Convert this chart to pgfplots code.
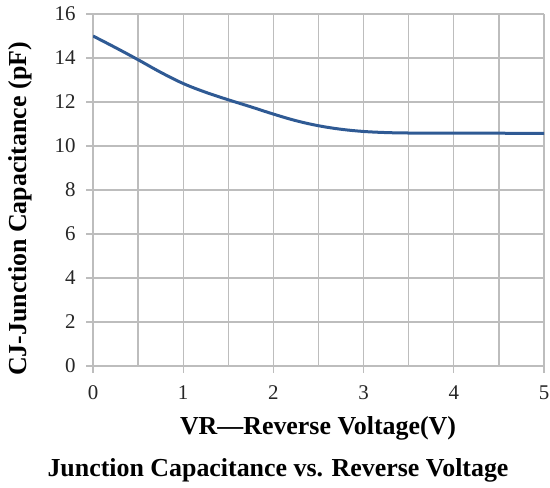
\documentclass[border=0pt]{standalone}
\usepackage{pgfplots}
\pgfplotsset{compat=1.18}
\usepackage{fontspec}
\setmainfont{Liberation Serif}
\definecolor{curve}{HTML}{2F5A94}
\definecolor{grid}{HTML}{BDBDBD}

\begin{document}
\begin{tikzpicture}[x=1bp,y=1bp]
  \path[use as bounding box] (0,0) rectangle (550,488);
  \begin{axis}[
      at={(93bp,122bp)}, anchor=south west,
      scale only axis,
      width=451bp, height=352bp,
      xmin=0, xmax=5, ymin=0, ymax=16,
      xtick={0,1,...,5}, ytick={0,2,...,16},
      minor xtick={0.5,1.5,...,4.5},
      grid=both,
      major grid style={draw=grid, line width=1.3bp},
      minor grid style={draw=grid, line width=1.3bp},
      axis line style={draw=grid, line width=1.3bp},
      tick style={draw=grid, line width=1.3bp},
      major tick length=7bp, minor tick length=0pt,
      tick align=outside,
      xtick pos=bottom, ytick pos=left,
      axis x line*=bottom, axis y line*=left,
      /pgf/number format/assume math mode=true,
      tick label style={font=\rmfamily\fontsize{21}{24}\selectfont, text=black!85},
      xticklabel style={yshift=-9bp},
      yticklabel style={xshift=-7bp},
    ]
    \addplot[curve, line width=3bp, smooth, tension=0.6] coordinates {
      (0,15.0) (0.25,14.47) (0.5,13.92) (0.75,13.35) (1,12.84) (1.25,12.44)
      (1.5,12.1) (1.75,11.78) (2,11.45) (2.25,11.15) (2.5,10.92)
      (2.75,10.76) (3,10.66) (3.25,10.61) (3.5,10.59) (4,10.58)
      (4.5,10.58) (5,10.57)
    };
  \end{axis}
  \node[font=\fontsize{26}{30}\selectfont\bfseries, rotate=90] at (20,279) {CJ-Junction Capacitance (pF)};
  \node[font=\fontsize{26}{30}\selectfont\bfseries] at (318,60) {VR---Reverse Voltage(V)};
  \node[font=\fontsize{26}{30}\selectfont\bfseries] at (278,18) {Junction Capacitance vs. Reverse Voltage};
\end{tikzpicture}
\end{document}
